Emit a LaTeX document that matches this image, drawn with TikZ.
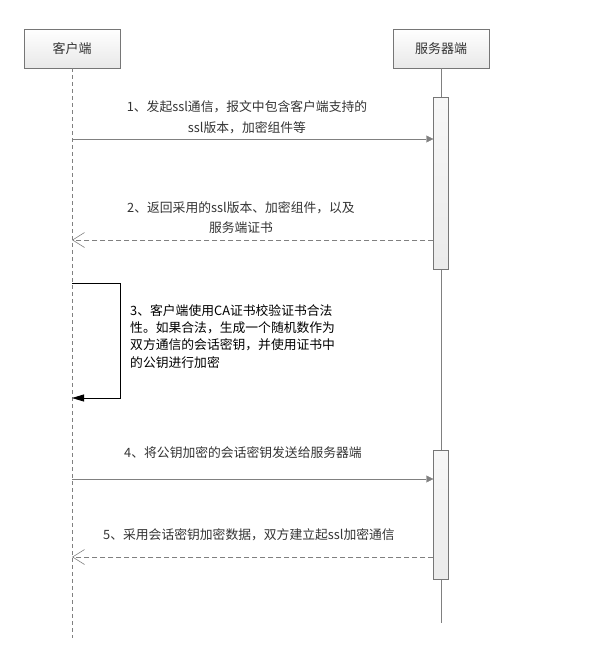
\documentclass[tikz,border=0pt]{standalone}
\usepackage{fontspec}
\setmainfont{Noto Sans CJK SC}
\usepackage{tikz}
\usetikzlibrary{arrows.meta,shadows}
\definecolor{linegray}{RGB}{128,128,128}
\definecolor{boxgray}{RGB}{118,118,118}
\definecolor{textgray}{RGB}{51,51,51}

\begin{document}
\begin{tikzpicture}[x=1pt,y=1pt,
	lifebox/.style={draw=boxgray,top color=white,bottom color=black!9,minimum width=96pt,minimum height=39pt,inner sep=0pt,font=\fontsize{13}{16}\selectfont,text=textgray,drop shadow={shadow xshift=1pt,shadow yshift=-1pt,fill=black!12}},
	actbox/.style={draw=boxgray,top color=black!3,bottom color=black!8,minimum width=15pt,inner sep=0pt},
	lbl/.style={inner sep=0pt,text=textgray,font=\fontsize{12.8}{20.5}\selectfont,align=center},
	msg/.style={draw=linegray,-{Triangle[length=7pt,width=7pt]}},
	reply/.style={draw=linegray,dash pattern=on 5pt off 3pt,-{Straight Barb[length=12pt,width=15pt,line width=0.6pt]}},
	selfmsg/.style={draw=black,line width=0.8pt,-{Triangle[length=12pt,width=7pt]}}]
					\useasboundingbox (0,0) rectangle (592,-662);
					% lifelines
					\node [lifebox] (client) at (72,-48.5) {客户端};
					\node [lifebox] (server) at (441,-48.5) {服务器端};
					\coordinate (clientend) at (72,-638);
					\coordinate (serverend) at (441,-623);
					\draw [linegray,dash pattern=on 4pt off 3pt] (client.south) -- (clientend);
					\draw [linegray] (server.south) -- (serverend);
					\node [actbox,minimum height=172pt] (act1) at (441,-183) {};
					\node [actbox,minimum height=129pt] (act2) at (441,-514.5) {};
					% 1
					\coordinate (c1) at (72,-139);
					\draw [msg] (c1) -- (c1 -| act1.west);
					\node [lbl] (t1) at (247,-117) {1、发起ssl通信，报文中包含客户端支持的\\ssl版本，加密组件等};
					% 2
					\coordinate (c2) at (72,-240);
					\draw [reply] (c2 -| act1.west) -- (c2);
					\node [lbl] (t2) at (241,-217.5) {2、返回采用的ssl版本、加密组件，以及\\服务端证书};
					% 3
					\coordinate (c3a) at (72,-283);
					\coordinate (c3b) at (120,-283);
					\coordinate (c3c) at (120,-398);
					\coordinate (c3d) at (72,-398);
					\draw [selfmsg] (c3a) -- (c3b) -- (c3c) -- (c3d);
					\node [lbl,text=black,align=left,anchor=north west,font=\fontsize{12.8}{17.4}\selectfont] (t3) at (130,-304) {3、客户端使用CA证书校验证书合法\\性。如果合法，生成一个随机数作为\\双方通信的会话密钥，并使用证书中\\的公钥进行加密};
					% 4
					\coordinate (c4) at (72,-479);
					\draw [msg] (c4) -- (c4 -| act2.west);
					\node [lbl] (t4) at (243,-453) {4、将公钥加密的会话密钥发送给服务器端};
					% 5
					\coordinate (c5) at (72,-557);
					\draw [reply] (c5 -| act2.west) -- (c5);
					\node [lbl] (t5) at (249,-535) {5、采用会话密钥加密数据，双方建立起ssl加密通信};
				\end{tikzpicture}
\end{document}
